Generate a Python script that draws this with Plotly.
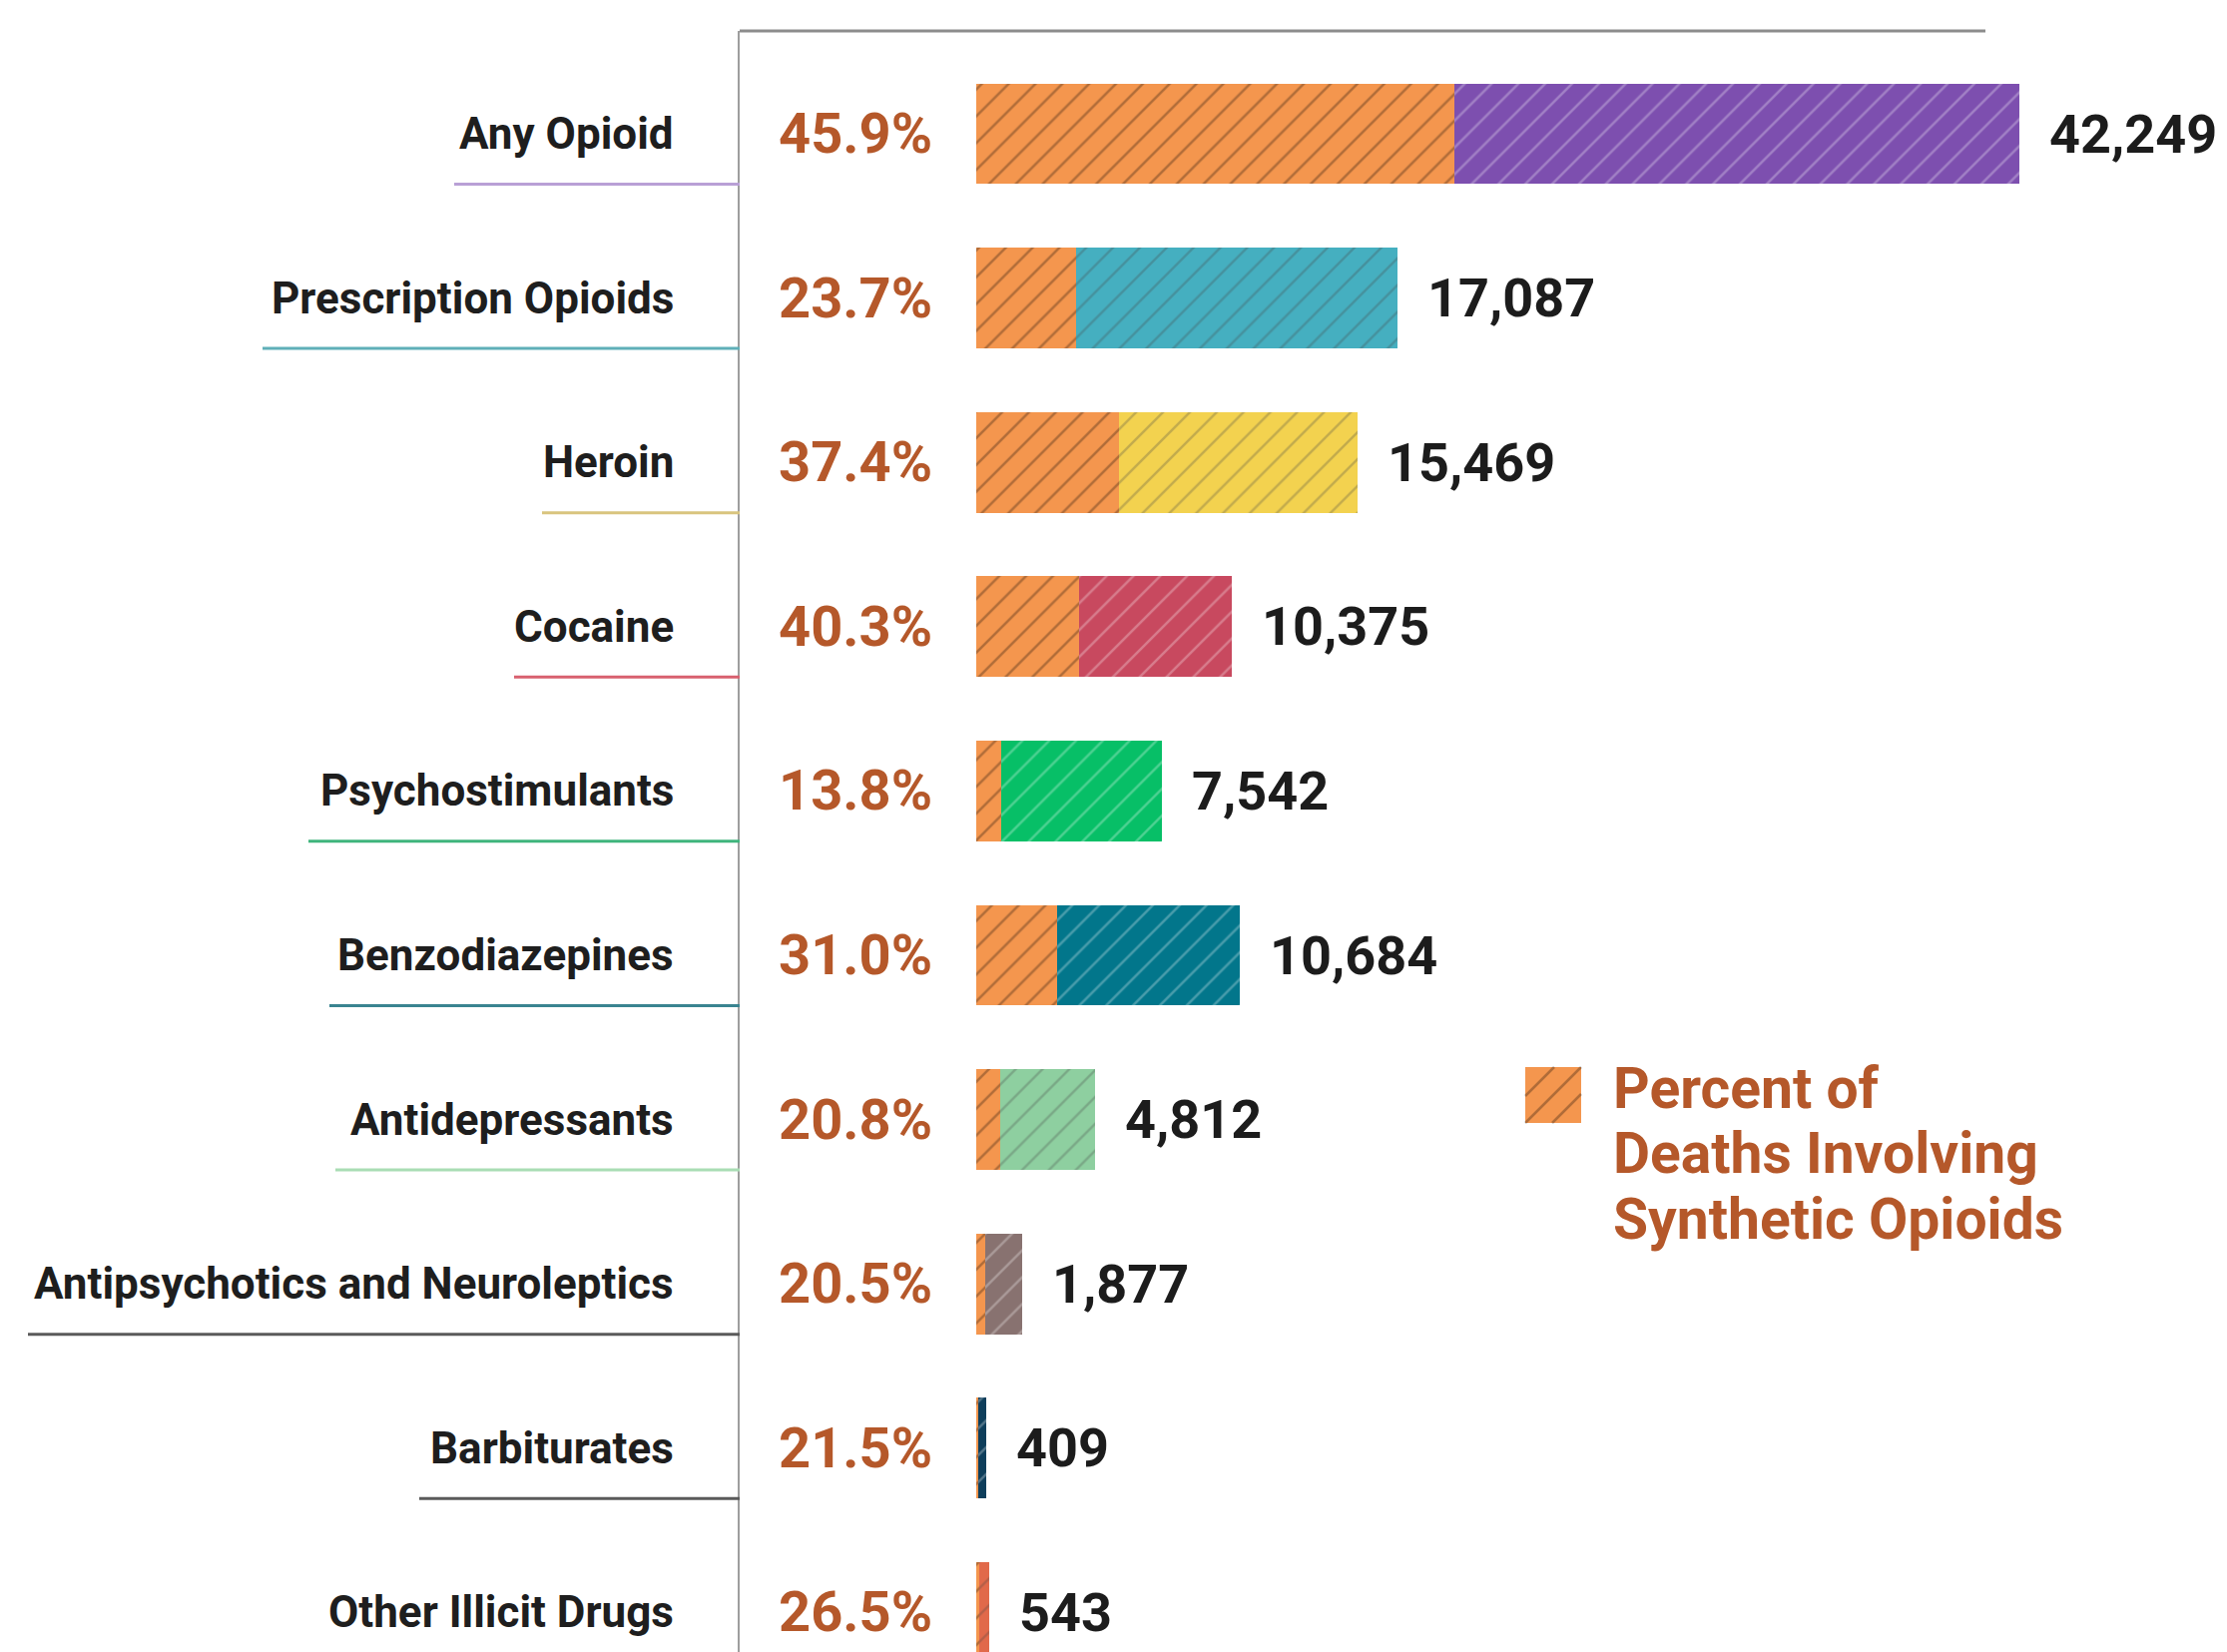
import plotly.graph_objects as go

# ---------------- data ----------------
categories = ["Any Opioid", "Prescription Opioids", "Heroin", "Cocaine",
              "Psychostimulants", "Benzodiazepines", "Antidepressants",
              "Antipsychotics and Neuroleptics", "Barbiturates", "Other Illicit Drugs"]
total_deaths = [42249, 17087, 15469, 10375, 7542, 10684, 4812, 1877, 409, 543]
pct_synthetic = [45.9, 23.7, 37.4, 40.3, 13.8, 31.0, 20.8, 20.5, 21.5, 26.5]
legend_lines = ["Percent of", "Deaths Involving", "Synthetic Opioids"]

# ---------------- styles ----------------
ORANGE = "#F4964E"
RUST = "#B5582A"
bar_colors = ["#7D4FAF", "#45AFC0", "#F3D24F", "#C8495F", "#07BF67",
              "#02768B", "#8ECFA0", "#887270", "#0E3E5B", "#E1694A"]
underline_colors = ["#B9A0D6", "#5FAFB8", "#D9C47E", "#D8606F", "#3FB57C",
                    "#3A8490", "#A9DDB4", "#5A5A5A", "#5A5A5A", "#E1694A"]
underline_start_px = [455, 263, 543, 515, 309, 330, 336, 28, 420, 339]

W, H = 2231, 1655
PLOT_L, PLOT_T = 741, 31
ZERO_PX, MAXEND_PX = 977.5, 2022.7
ROW0_PX, ROW_PITCH = 134.0, 164.6
upx = max(total_deaths) / (MAXEND_PX - ZERO_PX)  # data units per pixel
x_range = [-(ZERO_PX - PLOT_L) * upx, (W - ZERO_PX) * upx]
y_top = -(ROW0_PX - PLOT_T) / ROW_PITCH
y_bot = (H - ROW0_PX) / ROW_PITCH
BAR_W = 0.613

def px2paper_x(px):
    return (px - PLOT_L) / (W - PLOT_L)

def px2paper_y(py):
    return 1 - (py - PLOT_T) / (H - PLOT_T)

ypos = list(range(len(categories)))
synth_part = [t * p / 100 for t, p in zip(total_deaths, pct_synthetic)]
rest_part = [t - s for t, s in zip(total_deaths, synth_part)]

pattern = dict(shape="/", fillmode="overlay", fgcolor="#000000",
               fgopacity=0.28, size=19, solidity=0.13)

fig = go.Figure()
fig.add_trace(go.Bar(y=ypos, x=synth_part, orientation="h", width=BAR_W,
                     marker=dict(color=ORANGE, line=dict(width=0), pattern=pattern),
                     name="Percent of Deaths Involving Synthetic Opioids",
                     showlegend=False))
fig.add_trace(go.Bar(y=ypos, x=rest_part, orientation="h", width=BAR_W,
                     marker=dict(color=bar_colors, line=dict(width=0), pattern=pattern),
                     name="Other", showlegend=False))

FONT = "Roboto"
annotations = []
for i, (cat, tot, pct) in enumerate(zip(categories, total_deaths, pct_synthetic)):
    annotations.append(dict(x=0, xref="paper", y=i, yref="y", text=f"<b>{cat}</b>",
                            xanchor="right", yanchor="middle", xshift=-(PLOT_L - 677),
                            showarrow=False, font=dict(family=FONT, size=44, color="#1E1E1E")))
    annotations.append(dict(x=0, xref="x", y=i, yref="y", text=f"<b>{pct:.1f}%</b>",
                            xanchor="right", yanchor="middle", xshift=-42,
                            showarrow=False, font=dict(family=FONT, size=56, color=RUST)))
    annotations.append(dict(x=tot, xref="x", y=i, yref="y", text=f"<b>{tot:,}</b>",
                            xanchor="left", yanchor="middle", xshift=28,
                            showarrow=False, font=dict(family=FONT, size=54, color="#1C1C1C")))

leg_y_px = [1090, 1155, 1221]
for line, py in zip(legend_lines, leg_y_px):
    annotations.append(dict(x=px2paper_x(1614), xref="paper", y=px2paper_y(py), yref="paper",
                            text=f"<b>{line}</b>", xanchor="left", yanchor="middle",
                            showarrow=False, font=dict(family=FONT, size=57, color=RUST)))

shapes = []
# category underlines
for i, (c, sx) in enumerate(zip(underline_colors, underline_start_px)):
    yy = i + BAR_W / 2
    shapes.append(dict(type="line", xref="paper", yref="y", x0=px2paper_x(sx), x1=0,
                       y0=yy, y1=yy, line=dict(color=c, width=3)))
# top rule
shapes.append(dict(type="line", xref="paper", yref="paper", x0=0, x1=px2paper_x(1989),
                   y0=1, y1=1, line=dict(color="#8C8C8C", width=3)))
# legend swatch
sx0, sy0, s = 1528, 1069, 56
shapes.append(dict(type="rect", xref="paper", yref="paper",
                   x0=px2paper_x(sx0), x1=px2paper_x(sx0 + s),
                   y0=px2paper_y(sy0 + s), y1=px2paper_y(sy0),
                   fillcolor=ORANGE, line=dict(width=0)))
for c in (-27, 0, 27):
    u0, v0 = (c, 0) if c >= 0 else (0, -c)
    u1, v1 = (s, s - c) if c >= 0 else (s + c, s)
    shapes.append(dict(type="line", xref="paper", yref="paper",
                       x0=px2paper_x(sx0 + u0), y0=px2paper_y(sy0 + s - v0),
                       x1=px2paper_x(sx0 + u1), y1=px2paper_y(sy0 + s - v1),
                       line=dict(color="rgba(0,0,0,0.28)", width=2.5)))

fig.update_layout(
    width=W, height=H,
    margin=dict(l=PLOT_L, r=0, t=PLOT_T, b=0, pad=0),
    paper_bgcolor="white", plot_bgcolor="white",
    barmode="stack", bargap=0,
    showlegend=False,
    xaxis=dict(range=x_range, visible=False, fixedrange=True),
    yaxis=dict(range=[y_bot, y_top], showline=True, linecolor="#9E9E9E", linewidth=2,
               showgrid=False, zeroline=False, showticklabels=False, ticks="",
               fixedrange=True),
    annotations=annotations, shapes=shapes,
    font=dict(family=FONT),
)

fig.write_html("out.html", config={"displayModeBar": False},
               post_script="document.body.style.margin='0';")
